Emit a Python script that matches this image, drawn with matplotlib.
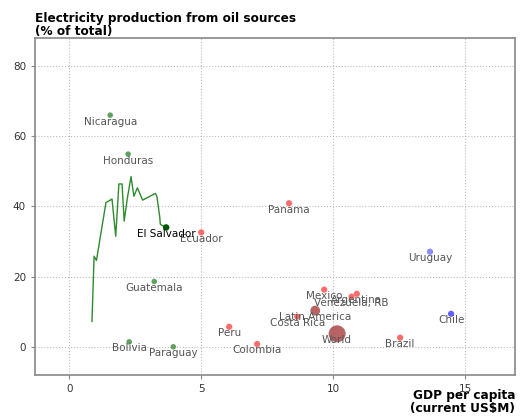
import matplotlib
matplotlib.use("Agg")
import matplotlib.pyplot as plt

countries = ["Nicaragua", "Honduras", "Guatemala", "Bolivia", "Paraguay",
             "Ecuador", "Panama", "Peru", "Colombia", "Costa Rica",
             "Mexico", "Venezuela, RB", "Argentina", "Brazil",
             "Latin America", "World", "Uruguay", "Chile", "El Salvador"]
gdp = [1.55, 2.23, 3.22, 2.27, 3.94,
       5.0, 8.33, 6.06, 7.12, 8.64,
       9.66, 10.7, 10.9, 12.54,
       9.32, 10.15, 13.67, 14.47, 3.67]
oil = [66.0, 54.9, 18.6, 1.4, 0.0,
       32.6, 40.9, 5.7, 0.8, 8.6,
       16.3, 14.3, 15.1, 2.6,
       10.3, 3.7, 27.1, 9.4, 34.0]
groups = ["g", "g", "g", "g", "g",
          "r", "r", "r", "r", "r",
          "r", "r", "r", "r",
          "agg", "world", "lb", "b", "sel"]

# El Salvador trajectory over time
sal_gdp = [0.86, 0.94, 1.03, 1.39, 1.62, 1.76, 1.88, 2.0, 2.08, 2.2,
           2.34, 2.45, 2.58, 2.78, 3.26, 3.32, 3.43, 3.45, 3.67]
sal_oil = [7.2, 25.8, 24.6, 41.1, 42.1, 31.5, 46.4, 46.4, 35.8, 42.3,
           48.5, 42.9, 45.3, 41.8, 43.7, 42.9, 36.9, 34.9, 34.0]

styles = {
    "g": dict(color="#3a8a3a", alpha=0.8, s=16),
    "r": dict(color="#ff3b3b", alpha=0.75, s=20),
    "agg": dict(color="#a03030", alpha=0.75, s=50),
    "world": dict(color="#a03030", alpha=0.75, s=150),
    "lb": dict(color="#7070ff", alpha=0.8, s=20),
    "b": dict(color="#3a3aff", alpha=0.8, s=20),
    "sel": dict(color="#005500", alpha=1.0, s=22),
}

fig = plt.figure(figsize=(5.22, 4.17), dpi=100)
ax = fig.add_axes([0.067, 0.101, 0.92, 0.808])

ax.plot(sal_gdp, sal_oil, color="#2e8b2e", lw=1.0, zorder=2)

for name, x, y, g in zip(countries, gdp, oil, groups):
    st = styles[g]
    ax.scatter([x], [y], s=st["s"], color=st["color"], alpha=st["alpha"],
               edgecolors="none", zorder=3)
    ax.annotate(name, (x, y), xytext=(0, -1), textcoords="offset points",
                ha="center", va="top", fontsize=7.5,
                color="black" if g == "sel" else "#555555", zorder=4)

ax.set_xlim(-1.3, 16.9)
ax.set_ylim(-8, 88)
ax.set_xticks([0, 5, 10, 15])
ax.set_yticks([0, 20, 40, 60, 80])
ax.grid(True, linestyle=":", color="#bbbbbb", lw=0.8)
ax.set_axisbelow(True)
for sp in ax.spines.values():
    sp.set_color("#888888")
    sp.set_linewidth(1.2)
ax.tick_params(colors="#888888", labelcolor="#333333", labelsize=7.5, length=3)

fig.text(0.067, 0.972, "Electricity production from oil sources\n(% of total)",
         ha="left", va="top", fontsize=8.7, fontweight="bold", linespacing=1.0)
fig.text(0.987, 0.005, "GDP per capita\n(current US$M)",
         ha="right", va="bottom", fontsize=8.7, fontweight="bold", linespacing=1.0)

fig.savefig("out.png", dpi=100)
